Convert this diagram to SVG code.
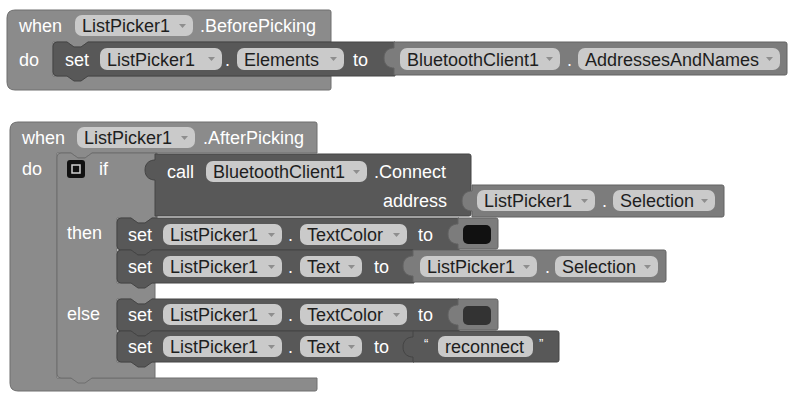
<svg xmlns="http://www.w3.org/2000/svg" width="788" height="393" viewBox="0 0 788 393">
<style>
text{font-family:"Liberation Sans",Arial,sans-serif;font-size:18px}
.w{fill:#fff}
.b{fill:#1e1e1e}
.q{font-size:13px;fill:#fff}
.ev{fill:#8b8b8b;stroke:#6e6e6e;stroke-width:1}
.dk{fill:#585858;stroke:#444;stroke-width:1}
.vl{fill:#7c7c7c;stroke:#626262;stroke-width:1}
.pill{fill:#cacaca}
.arr{fill:#8e8e8e}
</style>
<rect width="788" height="393" fill="#fff"/>

<g id="before-picking">
<path class="ev" d="M7,18 Q7,10 15,10 H329 Q331,10 331,12 V42 H88 l-7,5 h-7 l-7,-5 H53 V76 H331 V88 Q331,90 329,90 H15 Q7,90 7,82 Z"/>
<text class="w" x="19" y="32">when</text>
<rect class="pill" x="75" y="15" width="118" height="21" rx="7"/>
<text class="b" x="82" y="32">ListPicker1</text>
<polygon class="arr" points="179,24 186,24 182.5,28"/>
<text class="w" x="200" y="32">.BeforePicking</text>
<text class="w" x="19" y="65.5">do</text>
</g>

<g id="set-elements">
<path class="dk" d="M53,46 Q53,42 57,42 H67 l7,5 h7 l7,-5 H395 V76 H88 l-7,5 h-7 l-7,-5 H57 Q53,76 53,72 Z"/>
<text class="w" x="65" y="65.5">set</text>
<rect class="pill" x="100" y="48" width="122" height="22" rx="7"/>
<text class="b" x="107" y="65.5">ListPicker1</text>
<polygon class="arr" points="208,57 215,57 211.5,61"/>
<text class="w" x="225" y="65.5">.</text>
<rect class="pill" x="237" y="48" width="107" height="22" rx="7"/>
<text class="b" x="244" y="65.5">Elements</text>
<polygon class="arr" points="330,57 337,57 333.5,61"/>
<text class="w" x="353" y="65.5">to</text>
</g>

<g id="bt-addresses">
<path class="vl" d="M394,42 H785 Q787,42 787,44 V73 Q787,75 785,75 H394 V68 C390,68 384,66 384,58 C384,50 390,48 394,48 Z"/>
<rect class="pill" x="400" y="48" width="160" height="22" rx="7"/>
<text class="b" x="407" y="65.5">BluetoothClient1</text>
<polygon class="arr" points="546,57 553,57 549.5,61"/>
<text class="w" x="567" y="65.5">.</text>
<rect class="pill" x="578" y="48" width="202" height="22" rx="7"/>
<text class="b" x="585" y="65.5">AddressesAndNames</text>
<polygon class="arr" points="766,57 773,57 769.5,61"/>
</g>

<g id="after-picking">
<path class="ev" d="M10,130 Q10,122 18,122 H315 Q317,122 317,124 V153 H92 l-7,5 h-7 l-7,-5 H57 V378 H317 V389 Q317,391 315,391 H18 Q10,391 10,383 Z"/>
<text class="w" x="22" y="144">when</text>
<rect class="pill" x="77" y="127" width="118" height="21" rx="7"/>
<text class="b" x="84" y="144">ListPicker1</text>
<polygon class="arr" points="181,136 188,136 184.5,140"/>
<text class="w" x="203" y="144">.AfterPicking</text>
<text class="w" x="22" y="174.5">do</text>
</g>

<g id="if-else">
<path class="ev" d="M57,157 Q57,153 61,153 H71 l7,5 h7 l7,-5 H157 V218 H152 l-7,5 h-7 l-7,-5 H117 V283 H155 V299 H152 l-7,5 h-7 l-7,-5 H117 V362 H155 V378 H92 l-7,5 h-7 l-7,-5 H61 Q57,378 57,374 Z"/>
<rect x="67" y="160" width="18" height="18" rx="3" fill="#111"/>
<rect x="72" y="165" width="8" height="8" fill="#111" stroke="#d0d0d0" stroke-width="1.5"/>
<text class="w" x="99" y="174.5">if</text>
<text class="w" x="67" y="238.5">then</text>
<text class="w" x="67" y="319.5">else</text>
</g>

<g id="call-connect">
<path class="dk" d="M155,154 H469 Q471,154 471,156 V214 Q471,216 469,216 H155 V180 C151,180 145,178 145,170 C145,162 151,160 155,160 Z"/>
<text class="w" x="167" y="177.5">call</text>
<rect class="pill" x="206" y="161" width="161" height="21" rx="7"/>
<text class="b" x="213" y="177.5">BluetoothClient1</text>
<polygon class="arr" points="353,170 360,170 356.5,174"/>
<text class="w" x="374" y="177.5">.Connect</text>
<text class="w" x="447" y="207" text-anchor="end">address</text>
</g>

<g id="selection-address">
<path class="vl" d="M472,185 H722 Q724,185 724,187 V215 Q724,217 722,217 H472 V211 C468,211 462,209 462,201 C462,193 468,191 472,191 Z"/>
<rect class="pill" x="477" y="190" width="118" height="21" rx="7"/>
<text class="b" x="484" y="207">ListPicker1</text>
<polygon class="arr" points="581,199 588,199 584.5,203"/>
<text class="w" x="602" y="207">.</text>
<rect class="pill" x="613" y="190" width="102" height="21" rx="7"/>
<text class="b" x="620" y="207">Selection</text>
<polygon class="arr" points="701,199 708,199 704.5,203"/>
</g>

<g id="set-textcolor-then">
<path class="dk" d="M117,222 Q117,218 121,218 H131 l7,5 h7 l7,-5 H459 V250 H152 l-7,5 h-7 l-7,-5 H121 Q117,250 117,246 Z"/>
<text class="w" x="128" y="241">set</text>
<rect class="pill" x="163" y="224" width="119" height="21" rx="7"/>
<text class="b" x="170" y="241">ListPicker1</text>
<polygon class="arr" points="268,233 275,233 271.5,237"/>
<text class="w" x="288" y="241">.</text>
<rect class="pill" x="300" y="224" width="107" height="21" rx="7"/>
<text class="b" x="307" y="241">TextColor</text>
<polygon class="arr" points="393,233 400,233 396.5,237"/>
<text class="w" x="418" y="241">to</text>
</g>

<g id="color-black">
<path class="vl" d="M458,218 H496 Q498,218 498,220 V247 Q498,249 496,249 H458 V244 C454,244 448,242 448,234 C448,226 454,224 458,224 Z"/>
<rect x="463" y="225" width="28" height="19" rx="5" fill="#111"/>
</g>

<g id="set-text-then">
<path class="dk" d="M117,254 Q117,250 121,250 H131 l7,5 h7 l7,-5 H414 V283 H152 l-7,5 h-7 l-7,-5 H121 Q117,283 117,279 Z"/>
<text class="w" x="128" y="273">set</text>
<rect class="pill" x="163" y="256" width="119" height="21" rx="7"/>
<text class="b" x="170" y="273">ListPicker1</text>
<polygon class="arr" points="268,265 275,265 271.5,269"/>
<text class="w" x="288" y="273">.</text>
<rect class="pill" x="300" y="256" width="62" height="21" rx="7"/>
<text class="b" x="307" y="273">Text</text>
<polygon class="arr" points="348,265 355,265 351.5,269"/>
<text class="w" x="374" y="273">to</text>
</g>

<g id="selection-text">
<path class="vl" d="M413,250 H664 Q666,250 666,252 V280 Q666,282 664,282 H413 V276 C409,276 403,274 403,266 C403,258 409,256 413,256 Z"/>
<rect class="pill" x="420" y="256" width="117" height="21" rx="7"/>
<text class="b" x="427" y="273">ListPicker1</text>
<polygon class="arr" points="523,265 530,265 526.5,269"/>
<text class="w" x="545" y="273">.</text>
<rect class="pill" x="555" y="256" width="103" height="21" rx="7"/>
<text class="b" x="562" y="273">Selection</text>
<polygon class="arr" points="644,265 651,265 647.5,269"/>
</g>

<g id="set-textcolor-else">
<path class="dk" d="M117,303 Q117,299 121,299 H131 l7,5 h7 l7,-5 H459 V331 H152 l-7,5 h-7 l-7,-5 H121 Q117,331 117,327 Z"/>
<text class="w" x="128" y="321">set</text>
<rect class="pill" x="163" y="304" width="119" height="21" rx="7"/>
<text class="b" x="170" y="321">ListPicker1</text>
<polygon class="arr" points="268,313 275,313 271.5,317"/>
<text class="w" x="288" y="321">.</text>
<rect class="pill" x="300" y="304" width="107" height="21" rx="7"/>
<text class="b" x="307" y="321">TextColor</text>
<polygon class="arr" points="393,313 400,313 396.5,317"/>
<text class="w" x="418" y="321">to</text>
</g>

<g id="color-darkgray">
<path class="vl" d="M458,299 H496 Q498,299 498,301 V328 Q498,330 496,330 H458 V325 C454,325 448,323 448,315 C448,307 454,305 458,305 Z"/>
<rect x="463" y="306" width="28" height="19" rx="5" fill="#333"/>
</g>

<g id="set-text-else">
<path class="dk" d="M117,335 Q117,331 121,331 H131 l7,5 h7 l7,-5 H414 V362 H152 l-7,5 h-7 l-7,-5 H121 Q117,362 117,358 Z"/>
<text class="w" x="128" y="353">set</text>
<rect class="pill" x="163" y="336" width="119" height="21" rx="7"/>
<text class="b" x="170" y="353">ListPicker1</text>
<polygon class="arr" points="268,345 275,345 271.5,349"/>
<text class="w" x="288" y="353">.</text>
<rect class="pill" x="300" y="336" width="62" height="21" rx="7"/>
<text class="b" x="307" y="353">Text</text>
<polygon class="arr" points="348,345 355,345 351.5,349"/>
<text class="w" x="374" y="353">to</text>
</g>

<g id="text-reconnect">
<path class="dk" d="M413,331 H557 Q559,331 559,333 V360 Q559,362 557,362 H413 V357 C409,357 403,355 403,347 C403,339 409,337 413,337 Z"/>
<text class="q" x="424" y="348">“</text>
<rect class="pill" x="438" y="336" width="95" height="21" rx="7"/>
<text class="b" x="445" y="353">reconnect</text>
<text class="q" x="539" y="348">”</text>
</g>

<g id="connectors"/>
</svg>
